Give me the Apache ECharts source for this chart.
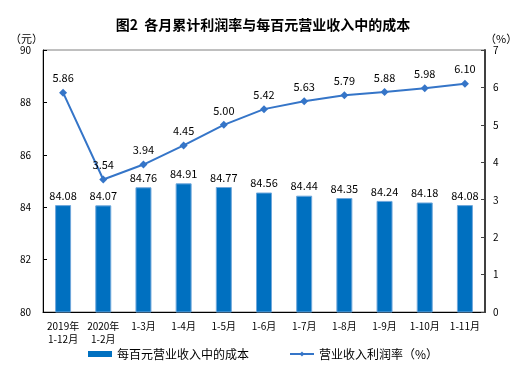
<!DOCTYPE html>
<html>
<head>
<meta charset="utf-8">
<script src="https://cdn.jsdelivr.net/npm/echarts@6/dist/echarts.min.js"></script>
<style>
  html, body { margin: 0; padding: 0; background: #fff; }
  #chart { width: 526px; height: 377px; }
</style>
</head>
<body>
<div id="chart"></div>
<script>
const categories = ['2019年\n1-12月', '2020年\n1-2月', '1-3月', '1-4月', '1-5月', '1-6月', '1-7月', '1-8月', '1-9月', '1-10月', '1-11月'];
const costPerHundred = [84.08, 84.07, 84.76, 84.91, 84.77, 84.56, 84.44, 84.35, 84.24, 84.18, 84.08];
const profitRate = [5.86, 3.54, 3.94, 4.45, 5.00, 5.42, 5.63, 5.79, 5.88, 5.98, 6.10];

const font = '"Noto Sans CJK SC", sans-serif';
const chart = echarts.init(document.getElementById('chart'));

chart.setOption({
  animation: false,
  textStyle: { fontFamily: font, color: '#000' },
  title: {
    text: '图2  各月累计利润率与每百元营业收入中的成本',
    left: 'center', top: 13,
    textStyle: { fontSize: 14, fontWeight: 'bold', color: '#000', fontFamily: font }
  },
  grid: {
    left: 43, right: 41, top: 50, bottom: 65,
    show: true, borderColor: '#808080', borderWidth: 1
  },
  legend: {
    bottom: 12, left: 'center', itemGap: 40,
    textStyle: { fontSize: 12, color: '#000' },
    data: [
      { name: '每百元营业收入中的成本', icon: 'rect', itemStyle: { borderWidth: 0 } },
      { name: '营业收入利润率（%）' }
    ],
    itemWidth: 24, itemHeight: 6
  },
  xAxis: {
    type: 'category', data: categories,
    axisLine: { lineStyle: { color: '#000' } },
    axisTick: { inside: true, length: 4, lineStyle: { color: '#000' } },
    axisLabel: { fontSize: 10, color: '#000', lineHeight: 13, margin: 8, interval: 0 }
  },
  yAxis: [
    {
      type: 'value', min: 80, max: 90, interval: 2,
      name: '（元）', nameGap: 6,
      nameTextStyle: { fontSize: 11, color: '#000', align: 'right', padding: [0, 0, 0, 0] },
      axisLine: { show: true, lineStyle: { color: '#000' } },
      axisTick: { show: true, inside: true, length: 4, lineStyle: { color: '#000' } },
      axisLabel: { fontSize: 10, color: '#000', margin: 12 },
      splitLine: { show: false }
    },
    {
      type: 'value', min: 0, max: 7, interval: 1,
      name: '（%）', nameGap: 6,
      nameTextStyle: { fontSize: 11, color: '#000', align: 'left' },
      axisLine: { show: true, lineStyle: { color: '#404040', width: 2 } },
      axisTick: { show: true, inside: true, length: 4, lineStyle: { color: '#404040' } },
      axisLabel: { fontSize: 10, color: '#000', margin: 8 },
      splitLine: { show: false }
    }
  ],
  series: [
    {
      name: '每百元营业收入中的成本',
      type: 'bar', yAxisIndex: 0, data: costPerHundred,
      barWidth: 16,
      itemStyle: { color: '#0070C0', borderColor: '#6FA8DC', borderWidth: 1 },
      label: { show: true, position: 'top', fontSize: 11, color: '#000', distance: 4,
        formatter: p => p.value.toFixed(2) }
    },
    {
      name: '营业收入利润率（%）',
      type: 'line', yAxisIndex: 1, data: profitRate,
      symbol: 'diamond', symbolSize: 8,
      lineStyle: { color: '#3575C8', width: 2 },
      itemStyle: { color: '#3575C8' },
      label: { show: true, position: 'top', fontSize: 11, color: '#000', distance: 5,
        formatter: p => p.value.toFixed(2) }
    }
  ]
});
</script>
</body>
</html>
